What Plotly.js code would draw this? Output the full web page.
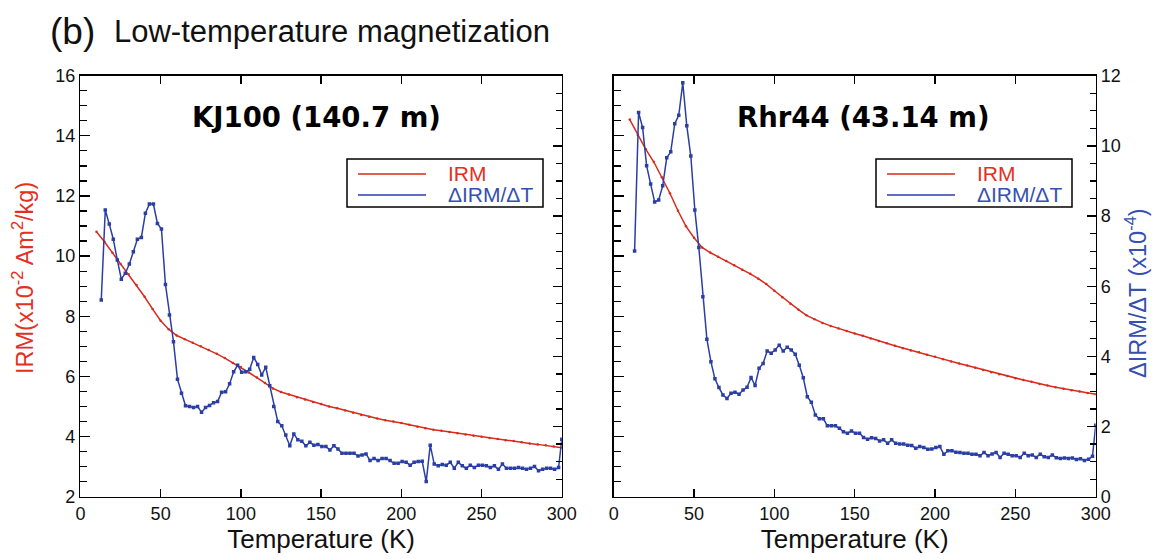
<!DOCTYPE html>
<html>
<head>
<meta charset="utf-8">
<script src="https://cdn.plot.ly/plotly-3.0.1.min.js"></script>
<style>
  html, body { margin: 0; padding: 0; background: #ffffff; }
  #chart { width: 1153px; height: 559px; }
</style>
</head>
<body>
<div id="chart"></div>
<script>
// ---------- data ----------
// IRM measurements (left axis, x10^-2 Am^2/kg)
const tempIRM = [10,15,20,25,30,35,40,45,50,55,
                 60,65,70,75,80,85,90,95,100,105,
                 110,115,120,125,130,135,140,145,150,155,
                 160,165,170,175,180,185,190,195,200,205,
                 210,215,220,225,230,235,240,245,250,255,
                 260,265,270,275,280,285,290,295,300];
const irmKJ100 = [10.81,10.48,10.11,9.74,9.40,9.04,8.65,8.24,7.85,7.57,
                  7.36,7.24,7.12,7.00,6.88,6.75,6.61,6.45,6.31,6.13,
                  5.96,5.78,5.60,5.48,5.40,5.31,5.23,5.15,5.08,5.00,
                  4.94,4.87,4.79,4.72,4.66,4.60,4.54,4.50,4.45,4.39,
                  4.33,4.28,4.23,4.19,4.15,4.11,4.07,4.03,3.99,3.95,
                  3.92,3.88,3.85,3.81,3.77,3.74,3.71,3.67,3.63];
const irmRhr44 = [14.54,14.03,13.55,13.13,12.62,12.09,11.51,10.99,10.61,10.29,
                  10.12,9.98,9.84,9.70,9.55,9.41,9.25,9.07,8.85,8.63,
                  8.42,8.22,8.03,7.90,7.78,7.68,7.59,7.51,7.43,7.35,
                  7.26,7.18,7.10,7.02,6.94,6.86,6.80,6.72,6.65,6.57,
                  6.50,6.43,6.36,6.29,6.21,6.14,6.07,6.01,5.94,5.88,
                  5.82,5.75,5.70,5.64,5.59,5.54,5.50,5.45,5.41];

// dIRM/dT (right axis, x10^-4)
const tempD = [13,15.5,18,20.5,23,25.5,28,30.5,33,35.5,
               38,40.5,43,45.5,48,50.5,53,55.5,58,60.5,
               63,65.5,68,70.5,73,75.5,78,80.5,83,85.5,
               88,90.5,93,95.5,98,100.5,103,105.5,108,110.5,
               113,115.5,118,120.5,123,125.5,128,130.5,133,135.5,
               138,140.5,143,145.5,148,150.5,153,155.5,158,160.5,
               163,165.5,168,170.5,173,175.5,178,180.5,183,185.5,
               188,190.5,193,195.5,198,200.5,203,205.5,208,210.5,
               213,215.5,218,220.5,223,225.5,228,230.5,233,235.5,
               238,240.5,243,245.5,248,250.5,253,255.5,258,260.5,
               263,265.5,268,270.5,273,275.5,278,280.5,283,285.5,
               288,290.5,293,295.5,298,300];
const dKJ100 = [5.61,8.17,7.77,7.34,6.75,6.20,6.37,6.63,6.98,7.34,
                7.39,8.08,8.34,8.34,7.79,7.63,6.05,5.18,4.42,3.35,
                2.95,2.59,2.57,2.54,2.57,2.41,2.54,2.60,2.68,2.71,
                2.98,2.99,3.22,3.56,3.75,3.55,3.56,3.63,3.97,3.77,
                3.47,3.69,3.16,2.57,2.14,2.02,1.76,1.45,1.79,1.62,
                1.58,1.45,1.55,1.47,1.49,1.43,1.43,1.33,1.45,1.36,
                1.24,1.24,1.24,1.24,1.16,1.19,1.22,1.03,1.09,1.03,
                1.09,1.09,1.03,0.95,0.95,1.00,0.98,0.90,0.98,1.00,
                1.01,0.43,1.47,0.93,0.88,0.92,0.90,0.98,0.81,0.98,
                0.88,0.81,0.90,0.83,0.90,0.90,0.88,0.83,0.88,0.78,
                0.93,0.81,0.81,0.81,0.83,0.81,0.78,0.81,0.86,0.74,
                0.78,0.81,0.81,0.78,0.83,1.64];
const dRhr44 = [7.00,10.95,10.52,9.43,8.91,8.40,8.46,8.86,9.66,9.83,
                10.63,10.87,11.80,10.57,9.71,8.17,7.10,5.70,4.49,3.85,
                3.36,3.11,2.90,2.80,2.95,2.98,2.92,3.04,3.12,3.40,
                3.17,3.66,3.80,4.15,4.09,4.18,4.32,4.15,4.26,4.18,
                4.06,3.75,3.39,2.85,2.69,2.33,2.22,2.22,2.02,2.02,
                2.02,1.95,1.85,1.81,1.87,1.81,1.81,1.69,1.64,1.68,
                1.66,1.59,1.62,1.52,1.62,1.52,1.50,1.50,1.47,1.46,
                1.38,1.43,1.40,1.35,1.36,1.40,1.43,1.21,1.31,1.31,
                1.27,1.26,1.24,1.24,1.21,1.21,1.17,1.26,1.17,1.22,
                1.26,1.12,1.24,1.21,1.17,1.17,1.12,1.24,1.17,1.19,
                1.12,1.21,1.14,1.12,1.19,1.11,1.09,1.10,1.09,1.10,
                1.06,1.08,1.03,1.07,1.15,2.04];

const panelTitles = ['KJ100 (140.7 m)', 'Rhr44 (43.14 m)'];
const seriesNames = ['IRM', '\u0394IRM/\u0394T'];
const figTitleTag = '(b)';
const figTitle = 'Low-temperature magnetization';
const xTitle = 'Temperature (K)';
const yLeftTitle = 'IRM(x10<sup>-2</sup> Am<sup>2</sup>/kg)';
const yRightTitle = '\u0394IRM/\u0394T (x10<sup>-4</sup>)';

// ---------- styling ----------
const W = 1153, H = 559;
const RED = '#d92a1c', BLUE = '#2a3ea5';
const RED_TXT = '#e3301f', BLUE_TXT = '#3550b0';
const FONT = 'Liberation Sans, Arial, Helvetica, sans-serif';
const px = v => v / W;
const py = v => 1 - v / H;

const dom1 = [px(80.4), px(561.8)];
const dom2 = [px(613.7), px(1095.7)];
const domY = [py(496.7), py(75.7)];

function xAx(domain, anchor) {
  return {
    domain: domain, anchor: anchor, range: [0, 300], dtick: 50,
    ticks: 'inside', ticklen: 8, tickwidth: 1.3, tickcolor: '#000',
    mirror: 'ticks', showline: true, linewidth: 1.5, linecolor: '#000',
    showgrid: false, zeroline: false,
    tickfont: {family: FONT, size: 18, color: '#111'},
    title: {text: xTitle, font: {family: FONT, size: 26, color: '#111'}, standoff: 4}
  };
}
function yIRM(anchor, labels) {
  return {
    domain: domY, anchor: anchor, side: 'left', range: [2, 16], dtick: 2,
    ticks: 'inside', ticklen: 10, tickwidth: 1.3, tickcolor: '#000',
    minor: {dtick: 0.5, ticks: 'inside', ticklen: 7, tickwidth: 1.2, tickcolor: '#000'},
    showline: true, linewidth: 1.5, linecolor: '#000',
    showgrid: false, zeroline: false, showticklabels: labels,
    tickfont: {family: FONT, size: 18, color: '#111'}
  };
}
function yD(anchor, over, labels) {
  return {
    overlaying: over, anchor: anchor, side: 'right', range: [0, 12], dtick: 2,
    ticks: 'inside', ticklen: 9, tickwidth: 1.3, tickcolor: '#000',
    minor: {dtick: 0.5, ticks: 'inside', ticklen: 6, tickwidth: 1.2, tickcolor: '#000'},
    showline: true, linewidth: 1.5, linecolor: '#000',
    showgrid: false, zeroline: false, showticklabels: labels,
    tickfont: {family: FONT, size: 18, color: '#111'}
  };
}

const redStyle = {mode: 'lines+markers', line: {color: RED, width: 1.5},
                  marker: {color: RED, size: 2.5, symbol: 'circle'}, showlegend: false};
const blueStyle = {mode: 'lines+markers', line: {color: BLUE, width: 1.5},
                   marker: {color: BLUE, size: 3.5, symbol: 'square'}, showlegend: false};

const traces = [
  Object.assign({x: tempIRM, y: irmKJ100, xaxis: 'x', yaxis: 'y', name: seriesNames[0]}, redStyle),
  Object.assign({x: tempD, y: dKJ100, xaxis: 'x', yaxis: 'y2', name: seriesNames[1]}, blueStyle),
  Object.assign({x: tempIRM, y: irmRhr44, xaxis: 'x2', yaxis: 'y3', name: seriesNames[0]}, redStyle),
  Object.assign({x: tempD, y: dRhr44, xaxis: 'x2', yaxis: 'y4', name: seriesNames[1]}, blueStyle)
];

// legend boxes drawn by hand (one per panel)
const shapes = [];
const annotations = [];
function legendBox(x0) {
  shapes.push({type: 'rect', xref: 'paper', yref: 'paper',
    x0: px(x0), x1: px(x0 + 196), y0: py(207), y1: py(159),
    line: {color: '#000', width: 1.5}, fillcolor: 'rgba(255,255,255,1)'});
  shapes.push({type: 'line', xref: 'paper', yref: 'paper',
    x0: px(x0 + 11), x1: px(x0 + 79), y0: py(174), y1: py(174), line: {color: RED, width: 1.5}});
  shapes.push({type: 'line', xref: 'paper', yref: 'paper',
    x0: px(x0 + 11), x1: px(x0 + 79), y0: py(195), y1: py(195), line: {color: BLUE, width: 1.5}});
  annotations.push({xref: 'paper', yref: 'paper', x: px(x0 + 99), y: py(173.5), xanchor: 'left', yanchor: 'middle',
    text: seriesNames[0], showarrow: false, font: {family: FONT, size: 21, color: RED_TXT}});
  annotations.push({xref: 'paper', yref: 'paper', x: px(x0 + 99), y: py(195), xanchor: 'left', yanchor: 'middle',
    text: seriesNames[1], showarrow: false, font: {family: FONT, size: 21, color: BLUE_TXT}});
}
legendBox(347);
legendBox(876);

annotations.push(
  {xref: 'paper', yref: 'paper', x: px(48), y: py(31), xanchor: 'left', yanchor: 'middle',
   text: figTitleTag, showarrow: false, font: {family: FONT, size: 37, color: '#111'}},
  {xref: 'paper', yref: 'paper', x: px(112), y: py(31), xanchor: 'left', yanchor: 'middle',
   text: figTitle, showarrow: false, font: {family: FONT, size: 31, color: '#111'}},
  {xref: 'paper', yref: 'paper', x: px(316.7), y: py(117), xanchor: 'center', yanchor: 'middle',
   text: '<b>' + panelTitles[0] + '</b>', showarrow: false,
   font: {family: 'DejaVu Sans, sans-serif', size: 27.5, color: '#000'}},
  {xref: 'paper', yref: 'paper', x: px(864), y: py(117), xanchor: 'center', yanchor: 'middle',
   text: '<b>' + panelTitles[1] + '</b>', showarrow: false,
   font: {family: 'DejaVu Sans, sans-serif', size: 27.5, color: '#000'}},
  {xref: 'paper', yref: 'paper', x: px(23), y: py(278), xanchor: 'center', yanchor: 'middle',
   text: yLeftTitle, textangle: -90, showarrow: false, font: {family: FONT, size: 23.5, color: RED_TXT}},
  {xref: 'paper', yref: 'paper', x: px(1136), y: py(293), xanchor: 'center', yanchor: 'middle',
   text: yRightTitle, textangle: -90, showarrow: false, font: {family: FONT, size: 23.5, color: BLUE_TXT}}
);

const layout = {
  width: W, height: H,
  margin: {l: 0, r: 0, t: 0, b: 0},
  paper_bgcolor: '#ffffff', plot_bgcolor: '#ffffff',
  showlegend: false,
  font: {family: FONT, color: '#111'},
  xaxis: xAx(dom1, 'y'),
  yaxis: yIRM('x', true),
  yaxis2: yD('x', 'y', false),
  xaxis2: xAx(dom2, 'y3'),
  yaxis3: yIRM('x2', false),
  yaxis4: yD('x2', 'y3', true),
  shapes: shapes,
  annotations: annotations
};

Plotly.newPlot('chart', traces, layout, {staticPlot: true, displayModeBar: false});
</script>
</body>
</html>
